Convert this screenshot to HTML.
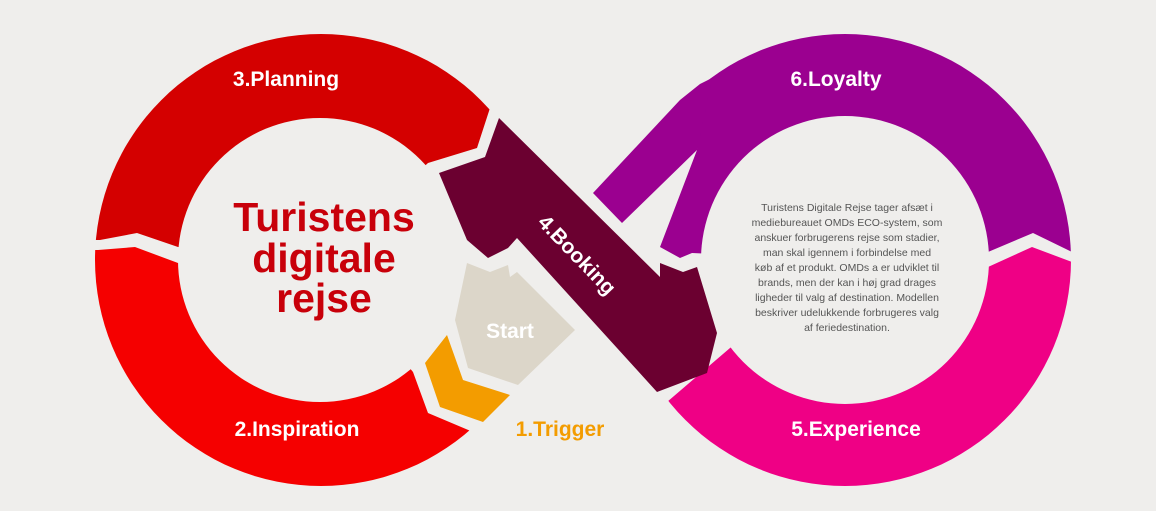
<!DOCTYPE html>
<html><head><meta charset="utf-8"><style>
html,body{margin:0;padding:0;background:#efeeec;}
svg{display:block;}
text{font-family:"Liberation Sans",sans-serif;}
</style></head><body>
<svg width="1156" height="511" viewBox="0 0 1156 511" xmlns="http://www.w3.org/2000/svg">
<defs>
<clipPath id="cPlan"><polygon points="0,0 560,0 490,108 477,148 428,163 321,260 178,247 137,233 100,240 0,240"/></clipPath>
<clipPath id="cInsp"><polygon points="0,250 98,250 135,247 178,263 321,260 413,372 428,413 473,432 480,511 0,511"/></clipPath>
<clipPath id="cPurp"><polygon points="1156,0 1156,252 1072,252 1033,233 988,252 845,260 692,253 680,258 660,247 697,150 700,0"/></clipPath>
<clipPath id="cPink"><polygon points="1156,262 1072,262 1032,247 988,267 845,260 730,348 667,402 600,511 1156,511"/></clipPath>
</defs>
<rect width="1156" height="511" fill="#efeeec"/>
<circle cx="321" cy="260" r="226" fill="#d40000" clip-path="url(#cPlan)"/>
<circle cx="321" cy="260" r="226" fill="#f50000" clip-path="url(#cInsp)"/>
<circle cx="320" cy="260" r="142" fill="#efeeec"/>
<circle cx="845" cy="260" r="226" fill="#9b0090" clip-path="url(#cPurp)"/>
<circle cx="845" cy="260" r="226" fill="#ef0085" clip-path="url(#cPink)"/>
<circle cx="845" cy="260" r="144" fill="#efeeec"/>
<polygon points="593,193 622,223 697,150 712,78 700,84 680,100" fill="#9b0090"/>
<polygon points="499,118 660,277 660,263 683,272 697,267 717,333 707,373 657,392 517,238 508,248 488,258 467,240 439,173 485,157" fill="#6b0030"/>
<polygon points="467,263 490,272 508,265 510,277 517,272 575,330 518,385 468,368 455,320" fill="#dcd6c9"/>
<polygon points="447,335 463,380 510,395 483,422 440,407 425,363" fill="#f39c00"/>
<g font-weight="bold" font-size="21" fill="#fff" text-anchor="middle">
<text x="286" y="86">3.Planning</text>
<text x="297" y="436">2.Inspiration</text>
<text x="836" y="86">6.Loyalty</text>
<text x="856" y="436">5.Experience</text>
<text x="510" y="338">Start</text>
<text x="577" y="262" transform="rotate(46 577 255)">4.Booking</text>
<text x="560" y="436" fill="#f39c00">1.Trigger</text>
</g>
<g font-weight="bold" font-size="41" fill="#c8000a" text-anchor="middle">
<text x="324" y="231">Turistens</text>
<text x="324" y="272">digitale</text>
<text x="324" y="312">rejse</text>
</g>
<g font-size="10.5" fill="#555" text-anchor="middle">
<text x="847" y="211">Turistens Digitale Rejse tager afsæt i</text>
<text x="847" y="226">mediebureauet OMDs ECO-system, som</text>
<text x="847" y="241">anskuer forbrugerens rejse som stadier,</text>
<text x="847" y="256">man skal igennem i forbindelse med</text>
<text x="847" y="271">køb af et produkt. OMDs a er udviklet til</text>
<text x="847" y="286">brands, men der kan i høj grad drages</text>
<text x="847" y="301">ligheder til valg af destination. Modellen</text>
<text x="847" y="316">beskriver udelukkende forbrugeres valg</text>
<text x="847" y="331">af feriedestination.</text>
</g>
</svg>
</body></html>
